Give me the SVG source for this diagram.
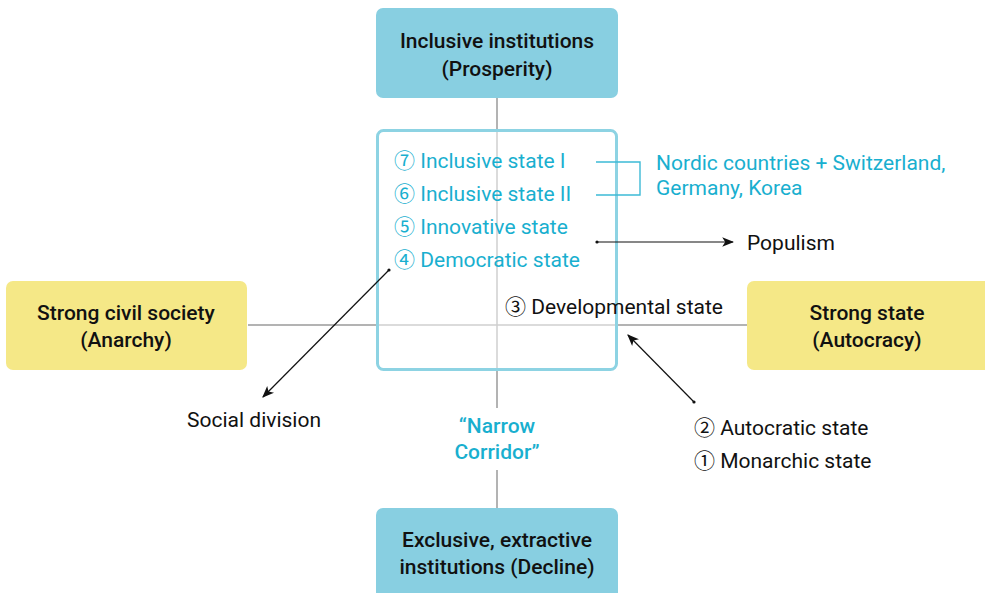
<svg xmlns="http://www.w3.org/2000/svg" width="985" height="593" viewBox="0 0 985 593">
  <style>
    text { font-family: Roboto, "Liberation Sans", "Noto Sans CJK SC", sans-serif; }
    .num { font-family: "Noto Sans CJK SC", "DejaVu Sans", sans-serif; }
    .box-blue { fill: #88CFE1; }
    .box-yellow { fill: #F5E887; }
    .title { font-size: 21px; font-weight: 500; fill: #111; text-anchor: middle; }
    .cyan { font-size: 21px; fill: #19AFCF; }
    .label { font-size: 21px; fill: #111; }
    .axis-out { stroke: #9a9a9a; stroke-width: 1.5; fill: none; }
    .axis-in { stroke: #cfcfcf; stroke-width: 1.5; fill: none; }
    .arrow { stroke: #111; stroke-width: 1.2; fill: none; marker-end: url(#head); marker-start: url(#dot); }
    .bracket { stroke: #3DBAD6; stroke-width: 1.4; fill: none; }
  </style>
  <defs>
    <marker id="head" viewBox="0 0 10 10" refX="9" refY="5" markerWidth="12" markerHeight="12" markerUnits="userSpaceOnUse" orient="auto">
      <path d="M0,1 L10,5 L0,9 L2.5,5 Z" fill="#111"/>
    </marker>
    <marker id="dot" viewBox="0 0 4 4" refX="2" refY="2" markerWidth="4" markerHeight="4" markerUnits="userSpaceOnUse">
      <circle cx="2" cy="2" r="1.6" fill="#111"/>
    </marker>
  </defs>

  <rect width="985" height="593" fill="#fff"/>

  <!-- axes and corridor frame -->
  <g id="connectors">
    <line class="axis-out" x1="497" y1="98" x2="497" y2="130"/>
    <line class="axis-out" x1="497" y1="370" x2="497" y2="408"/>
    <line class="axis-out" x1="497" y1="470" x2="497" y2="508"/>
    <line class="axis-out" x1="248" y1="325" x2="377" y2="325"/>
    <line class="axis-out" x1="617" y1="325" x2="747" y2="325"/>
    <line class="axis-in" x1="497" y1="130" x2="497" y2="370"/>
    <line class="axis-in" x1="377" y1="325" x2="617" y2="325"/>
    <rect x="377.5" y="130.5" width="239" height="239" rx="6" fill="none" stroke="#8DD3E3" stroke-width="3"/>

    <path class="bracket" d="M596,162 H640 V195 H596"/>
    <line class="arrow" x1="597" y1="242" x2="733" y2="242"/>
    <line class="arrow" x1="389" y1="270" x2="263" y2="397"/>
    <line class="arrow" x1="694" y1="402" x2="628" y2="335"/>
  </g>

  <g id="node-inclusive">
    <rect class="box-blue" x="376" y="8" width="242" height="90" rx="7"/>
    <text class="title" x="497" y="48">Inclusive institutions</text>
    <text class="title" x="497" y="76">(Prosperity)</text>
  </g>

  <g id="node-extractive">
    <rect class="box-blue" x="376" y="508" width="242" height="95" rx="7"/>
    <text class="title" x="497" y="547">Exclusive, extractive</text>
    <text class="title" x="497" y="574">institutions (Decline)</text>
  </g>

  <g id="node-civil-society">
    <rect class="box-yellow" x="6" y="281" width="241" height="89" rx="7"/>
    <text class="title" x="126" y="320">Strong civil society</text>
    <text class="title" x="126" y="347">(Anarchy)</text>
  </g>

  <g id="node-strong-state">
    <rect class="box-yellow" x="747" y="281" width="250" height="89" rx="7"/>
    <text class="title" x="867" y="320">Strong state</text>
    <text class="title" x="867" y="347">(Autocracy)</text>
  </g>

  <g id="corridor-states">
    <text class="cyan" x="394" y="168"><tspan class="num">⑦</tspan> Inclusive state I</text>
    <text class="cyan" x="394" y="201"><tspan class="num">⑥</tspan> Inclusive state II</text>
    <text class="cyan" x="394" y="234"><tspan class="num">⑤</tspan> Innovative state</text>
    <text class="cyan" x="394" y="267"><tspan class="num">④</tspan> Democratic state</text>
    <text class="label" x="505" y="314"><tspan class="num">③</tspan> Developmental state</text>
  </g>

  <g id="nordic-note">
    <text class="cyan" x="656" y="170">Nordic countries + Switzerland,</text>
    <text class="cyan" x="656" y="195">Germany, Korea</text>
  </g>

  <g id="populism">
    <text class="label" x="747" y="250">Populism</text>
  </g>

  <g id="social-division">
    <text class="label" x="187" y="427">Social division</text>
  </g>

  <g id="autocratic-states">
    <text class="label" x="694" y="435"><tspan class="num">②</tspan> Autocratic state</text>
    <text class="label" x="694" y="468"><tspan class="num">①</tspan> Monarchic state</text>
  </g>

  <g id="narrow-corridor">
    <text class="cyan" x="497" y="433" text-anchor="middle" font-weight="500">“Narrow</text>
    <text class="cyan" x="497" y="459" text-anchor="middle" font-weight="500">Corridor”</text>
  </g>
</svg>
